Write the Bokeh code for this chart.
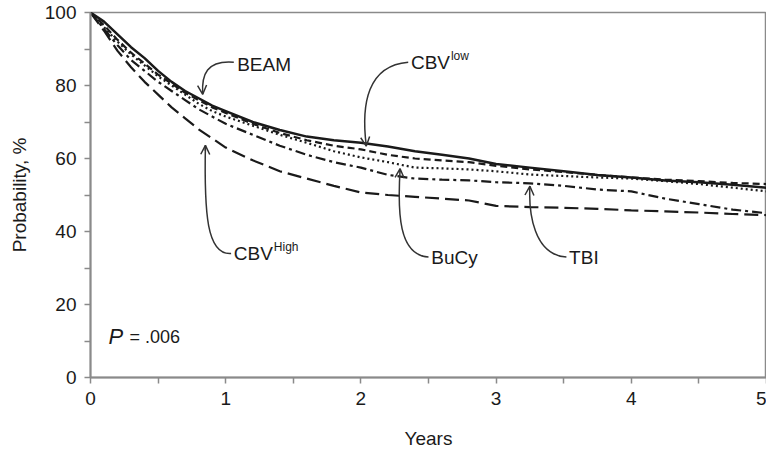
from bokeh.plotting import figure
from bokeh.models import FixedTicker, Arrow, OpenHead
from bokeh.core.properties import value
from bokeh.embed import file_html
from bokeh.resources import INLINE

# ---- data ----
years = [0, 0.1, 0.2, 0.3, 0.4, 0.5, 0.6, 0.7, 0.8, 0.9, 1.0, 1.2, 1.4, 1.6, 1.8,
         2.0, 2.2, 2.4, 2.6, 2.8, 3.0, 3.25, 3.5, 3.75, 4.0, 4.25, 4.5, 4.75, 5.0]
beam = [100, 97.5, 94, 90.5, 87.5, 84, 81, 78.5, 76.5, 74.5, 73, 70, 67.8, 66, 65,
        64.3, 63.3, 62, 61, 60, 58.5, 57.5, 56.5, 55.5, 54.8, 54, 53.5, 52.8, 52]
cbv_low = [100, 96.5, 92.5, 89, 86, 83, 80.5, 78, 76, 74, 72.5, 69.5, 67, 65, 63.5,
           62.5, 61, 60, 59.5, 59, 58, 57, 56.3, 55.5, 54.8, 54.2, 53.8, 53.3, 53]
bucy = [100, 96, 92, 88.5, 85.5, 82.5, 80, 77.5, 75, 73, 71.5, 69, 66.5, 64.3, 62,
        60.3, 59, 57.5, 57.3, 57, 56.5, 55.6, 55.2, 54.8, 54.5, 53.8, 53, 52, 51]
tbi = [100, 95.5, 91, 87, 84, 81, 78.5, 76, 73.5, 71.5, 69.5, 66.5, 63.5, 61, 59,
       57.5, 55.5, 54.5, 54.2, 54, 53.5, 53.2, 52.5, 51.5, 51, 49, 47.5, 46, 45]
cbv_high = [100, 95, 89.5, 85, 81, 77.5, 74, 71, 68, 65.5, 63, 59.5, 56.5, 54.5, 52.5,
            50.7, 50, 49.5, 49, 48.5, 47, 46.7, 46.5, 46.2, 45.8, 45.5, 45.2, 44.8, 44.5]

x_ticks = [0, 1, 2, 3, 4, 5]
x_minor = [0.5, 1.5, 2.5, 3.5, 4.5]
y_ticks = [0, 20, 40, 60, 80, 100]
y_minor = [10, 30, 50, 70, 90]

# label annotations: main text, superscript, text anchor, arrow path (start, c0, c1, tip)
labels = [
    ("BEAM", "", (1.085, 85.8), (1.06, 86.4), (0.86, 87.0), (0.82, 83.0), (0.83, 77.6)),
    ("CBV", "low", (2.37, 86.4), (2.35, 86.4), (2.05, 85.5), (2.0, 75.0), (2.04, 63.4)),
    ("CBV", "High", (1.06, 34.0), (1.04, 34.0), (0.86, 33.5), (0.84, 45.0), (0.85, 63.6)),
    ("BuCy", "", (2.52, 33.0), (2.50, 33.0), (2.28, 33.5), (2.27, 45.0), (2.29, 57.2)),
    ("TBI", "", (3.54, 33.0), (3.52, 33.0), (3.28, 33.5), (3.24, 45.0), (3.25, 52.4)),
]

FONT = "Liberation Sans"
INK = "#1a1a1a"
AXC = "#8a8a8a"

p = figure(frame_width=676, frame_height=365, x_range=(0, 5), y_range=(0, 100),
           output_backend="svg", toolbar_location=None,
           min_border_left=90, min_border_right=0, min_border_top=12, min_border_bottom=60)
p.background_fill_color = "white"
p.border_fill_color = "white"
p.outline_line_color = AXC
p.outline_line_width = 1.5
p.xgrid.visible = False
p.ygrid.visible = False

p.xaxis.ticker = FixedTicker(ticks=x_ticks, minor_ticks=x_minor)
p.yaxis.ticker = FixedTicker(ticks=y_ticks, minor_ticks=y_minor)
for ax in (p.xaxis, p.yaxis):
    ax.axis_line_color = AXC
    ax.axis_line_width = 2
    ax.major_tick_line_color = AXC
    ax.minor_tick_line_color = AXC
    ax.major_tick_line_width = 1.5
    ax.minor_tick_line_width = 1.5
    ax.major_tick_in = 0
    ax.major_tick_out = 6
    ax.minor_tick_in = 0
    ax.minor_tick_out = 6
    ax.major_label_text_font = FONT
    ax.major_label_text_font_size = "19px"
    ax.major_label_text_color = INK
    ax.major_label_standoff = 8
    ax.axis_label_text_font = FONT
    ax.axis_label_text_font_size = "19px"
    ax.axis_label_text_font_style = "normal"
    ax.axis_label_text_color = INK
p.xaxis.axis_label = "Years"
p.yaxis.axis_label = "Probability, %"
p.xaxis.axis_label_standoff = 20
p.yaxis.axis_label_standoff = 12

series = [
    (cbv_high, "14 6", 2.2),
    (tbi, "10 4 3 4", 2.2),
    (bucy, "2 3", 2.2),
    (cbv_low, "7 4", 2.2),
    (beam, "solid", 2.5),
]
for vals, dash, w in series:
    p.line(years, vals, line_color=INK, line_width=w, line_dash=dash)

ARC = "#333333"
for main, sup, (tx, ty), s, c0, c1, tip in labels:
    p.text(x=[tx], y=[ty], text=[main], text_font=value(FONT), text_font_size="19px",
           text_color=INK, text_baseline="middle", text_align="left")
    if sup:
        p.text(x=[tx], y=[ty], text=[sup], text_font=value(FONT), text_font_size="12px",
               text_color=INK, text_baseline="middle", text_align="left",
               x_offset=40, y_offset=-6)
    p.bezier(x0=[s[0]], y0=[s[1]], x1=[tip[0]], y1=[tip[1]], cx0=[c0[0]], cy0=[c0[1]],
             cx1=[c1[0]], cy1=[c1[1]], line_color=ARC, line_width=1.5)
    sx = tip[0] + 0.08 * (c1[0] - tip[0])
    sy = tip[1] + 0.08 * (c1[1] - tip[1])
    p.add_layout(Arrow(end=OpenHead(size=9, line_color=ARC, line_width=1.5),
                       x_start=sx, y_start=sy, x_end=tip[0], y_end=tip[1],
                       line_color=ARC, line_width=1.5))

p.text(x=[0.133], y=[11.2], text=["P"], text_font=value(FONT), text_font_size="22px",
       text_font_style="italic", text_color=INK, text_baseline="middle", text_align="left")
p.text(x=[0.133], y=[11.2], text=["= .006"], text_font=value(FONT), text_font_size="18px",
       text_color=INK, text_baseline="middle", text_align="left", x_offset=21)

open("out.html", "w").write(file_html(p, INLINE))
